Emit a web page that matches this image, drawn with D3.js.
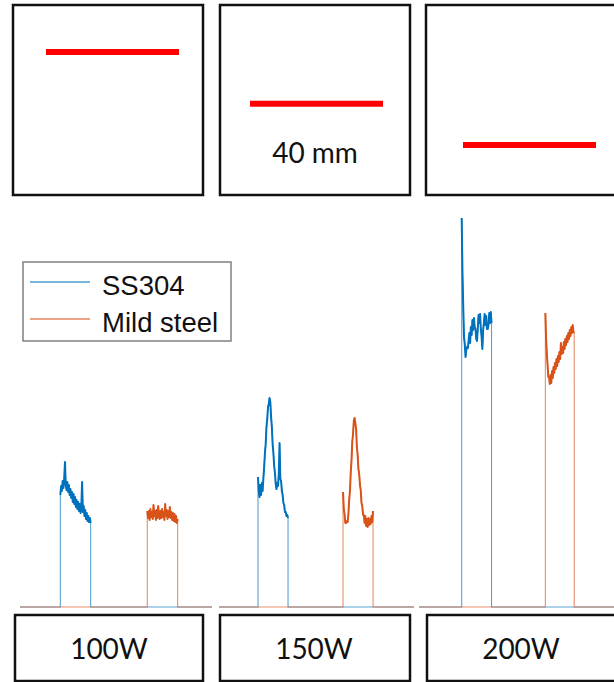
<!DOCTYPE html>
<html>
<head>
<meta charset="utf-8">
<script src="https://cdn.jsdelivr.net/npm/d3@7"></script>
<style>
  body { margin: 0; background: #fff; }
  svg { display: block; }
</style>
</head>
<body>
<div id="chart"></div>
<script>
// power levels, one column each
var powers = ["100W", "150W", "200W"];
// relative depth of the red line inside each top box (0 = top, 1 = bottom)
var lineDepth = [0.247, 0.52, 0.737];
var seriesNames = ["SS304", "Mild steel"];

// pulse start / end times (0-100 per panel)
var ssStart = [21.0, 20.0, 21.9];
var ssEnd = [36.8, 35.4, 37.2];
var msStart = [66.3, 63.6, 64.8];
var msEnd = [82.1, 79.0, 79.6];

// signal samples inside each pulse
var ss100 = [112,121,116,126,119,128,145,122,117,125,115,122,112,118,109,115,105,113,103,110,100,107,98,105,96,103,94,100,125,95,101,91,97,88,94,86,91,85,89,84];
var ms100 = [96,89,96,87,98,90,95,88,102,91,96,87,97,89,101,93,88,96,89,98,90,95,87,103,91,97,88,96,90,100,89,95,87,94,86,93,85,91,84,88];
var ss150 = [130,116,110,122,112,124,116,129,140,154,163,180,188,200,203,209,205,190,180,163,154,141,134,123,118,124,121,133,164,128,126,116,112,104,102,95,95,91,92,89];
var ms150 = [115,98,93,84,84,86,85,93,107,116,134,146,165,173,186,189,184,178,160,152,138,133,122,117,104,101,92,92,84,91,81,88,80,89,82,88,83,91,85,96];
var ss200 = [389,334,300,270,263,250,257,260,259,266,274,264,280,272,287,277,289,280,278,268,266,278,292,284,293,278,270,258,277,284,293,282,291,278,278,282,294,284,295,284];
var ms200 = [294,268,253,242,230,230,223,232,224,236,229,240,234,244,238,248,241,251,245,255,248,264,253,260,254,265,258,268,262,271,265,274,268,277,271,280,274,282,275,274];

var ssData = [ss100, ss150, ss200];
var msData = [ms100, ms150, ms200];

var width = 614, height = 682;
var colors = {ss: "#0072BD", ms: "#D95319"};

var svg = d3.select("#chart")
	.append("svg")
	.attr("width", width)
	.attr("height", height);

// column layout
var topBoxes = [{x: 13, w: 190}, {x: 220, w: 190}, {x: 426, w: 190}];
var redX = [46, 250, 463];
var botBoxes = [{x: 15, w: 188}, {x: 220, w: 190}, {x: 427, w: 190}];
var panelX = [[20, 212], [219, 414], [419, 614]];

// ****************** top boxes ***************************
var boxTop = 5, boxH = 190;
var depth = d3.scaleLinear().domain([0, 1]).range([boxTop, boxTop + boxH]);

powers.forEach(function(p, i) {
	var b = topBoxes[i];
	svg.append("rect")
		.attr("x", b.x).attr("y", boxTop)
		.attr("width", b.w).attr("height", boxH)
		.attr("fill", "none")
		.attr("stroke", "#111")
		.attr("stroke-width", 2.5);

	svg.append("line")
		.attr("x1", redX[i]).attr("x2", redX[i] + 133)
		.attr("y1", depth(lineDepth[i])).attr("y2", depth(lineDepth[i]))
		.attr("stroke", "#ff0000")
		.attr("stroke-width", 6);
});

svg.append("text")
	.attr("x", 315).attr("y", 163)
	.attr("text-anchor", "middle")
	.attr("font-family", "Lato, 'Open Sans', sans-serif")
	.attr("font-size", 28)
	.attr("fill", "#111")
	.text("40 mm");

// ****************** signal panels ***************************
var y = d3.scaleLinear().domain([0, 400]).range([607, 207]);

function pulsePoints(start, end, vals) {
	var n = vals.length;
	return vals.map((v, k) => ({t: start + (end - start) * k / (n - 1), v: v}));
}

function buildSeries(start, end, vals) {
	return [{t: 0, v: 0}, {t: start, v: 0}]
		.concat(pulsePoints(start, end, vals))
		.concat([{t: end, v: 0}, {t: 100, v: 0}]);
}

powers.forEach(function(p, i) {
	var x = d3.scaleLinear().domain([0, 100]).range(panelX[i]);
	var line = d3.line()
		.x(d => x(d.t))
		.y(d => y(d.v));

	var sets = [
		{c: colors.ss, s: ssStart[i], e: ssEnd[i], v: ssData[i]},
		{c: colors.ms, s: msStart[i], e: msEnd[i], v: msData[i]}
	];

	sets.forEach(function(d) {
		// full trace, thin and faint like the baseline
		svg.append("path")
			.datum(buildSeries(d.s, d.e, d.v))
			.attr("d", line)
			.attr("fill", "none")
			.attr("stroke", d.c)
			.attr("stroke-width", 1.1)
			.attr("stroke-opacity", 0.65);
		// noisy top of the pulse, denser
		svg.append("path")
			.datum(pulsePoints(d.s, d.e, d.v))
			.attr("d", line)
			.attr("fill", "none")
			.attr("stroke", d.c)
			.attr("stroke-width", 2)
			.attr("stroke-linejoin", "round");
	});
});

// ****************** legend ***************************
var legend = svg.append("g");
legend.append("rect")
	.attr("x", 23).attr("y", 262)
	.attr("width", 208).attr("height", 79)
	.attr("fill", "#fff")
	.attr("stroke", "#808080")
	.attr("stroke-width", 1.5);

[colors.ss, colors.ms].forEach(function(c, k) {
	var ly = 282 + k * 37;
	legend.append("line")
		.attr("x1", 30).attr("x2", 90)
		.attr("y1", ly).attr("y2", ly)
		.attr("stroke", c)
		.attr("stroke-opacity", 0.7)
		.attr("stroke-width", 1.5);
	legend.append("text")
		.attr("x", 102).attr("y", ly + 13)
		.attr("font-family", "'Liberation Sans', Arial, sans-serif")
		.attr("font-size", 27.5)
		.attr("fill", "#111")
		.text(seriesNames[k]);
});

// ****************** bottom labels ***************************
powers.forEach(function(p, i) {
	var b = botBoxes[i];
	svg.append("rect")
		.attr("x", b.x).attr("y", 615)
		.attr("width", b.w).attr("height", 66)
		.attr("fill", "#fff")
		.attr("stroke", "#111")
		.attr("stroke-width", 2.5);
	svg.append("text")
		.attr("x", b.x + 94).attr("y", 659)
		.attr("text-anchor", "middle")
		.attr("font-family", "Lato, 'Open Sans', sans-serif")
		.attr("font-size", 28)
		.attr("fill", "#111")
		.text(p);
});
</script>
</body>
</html>
